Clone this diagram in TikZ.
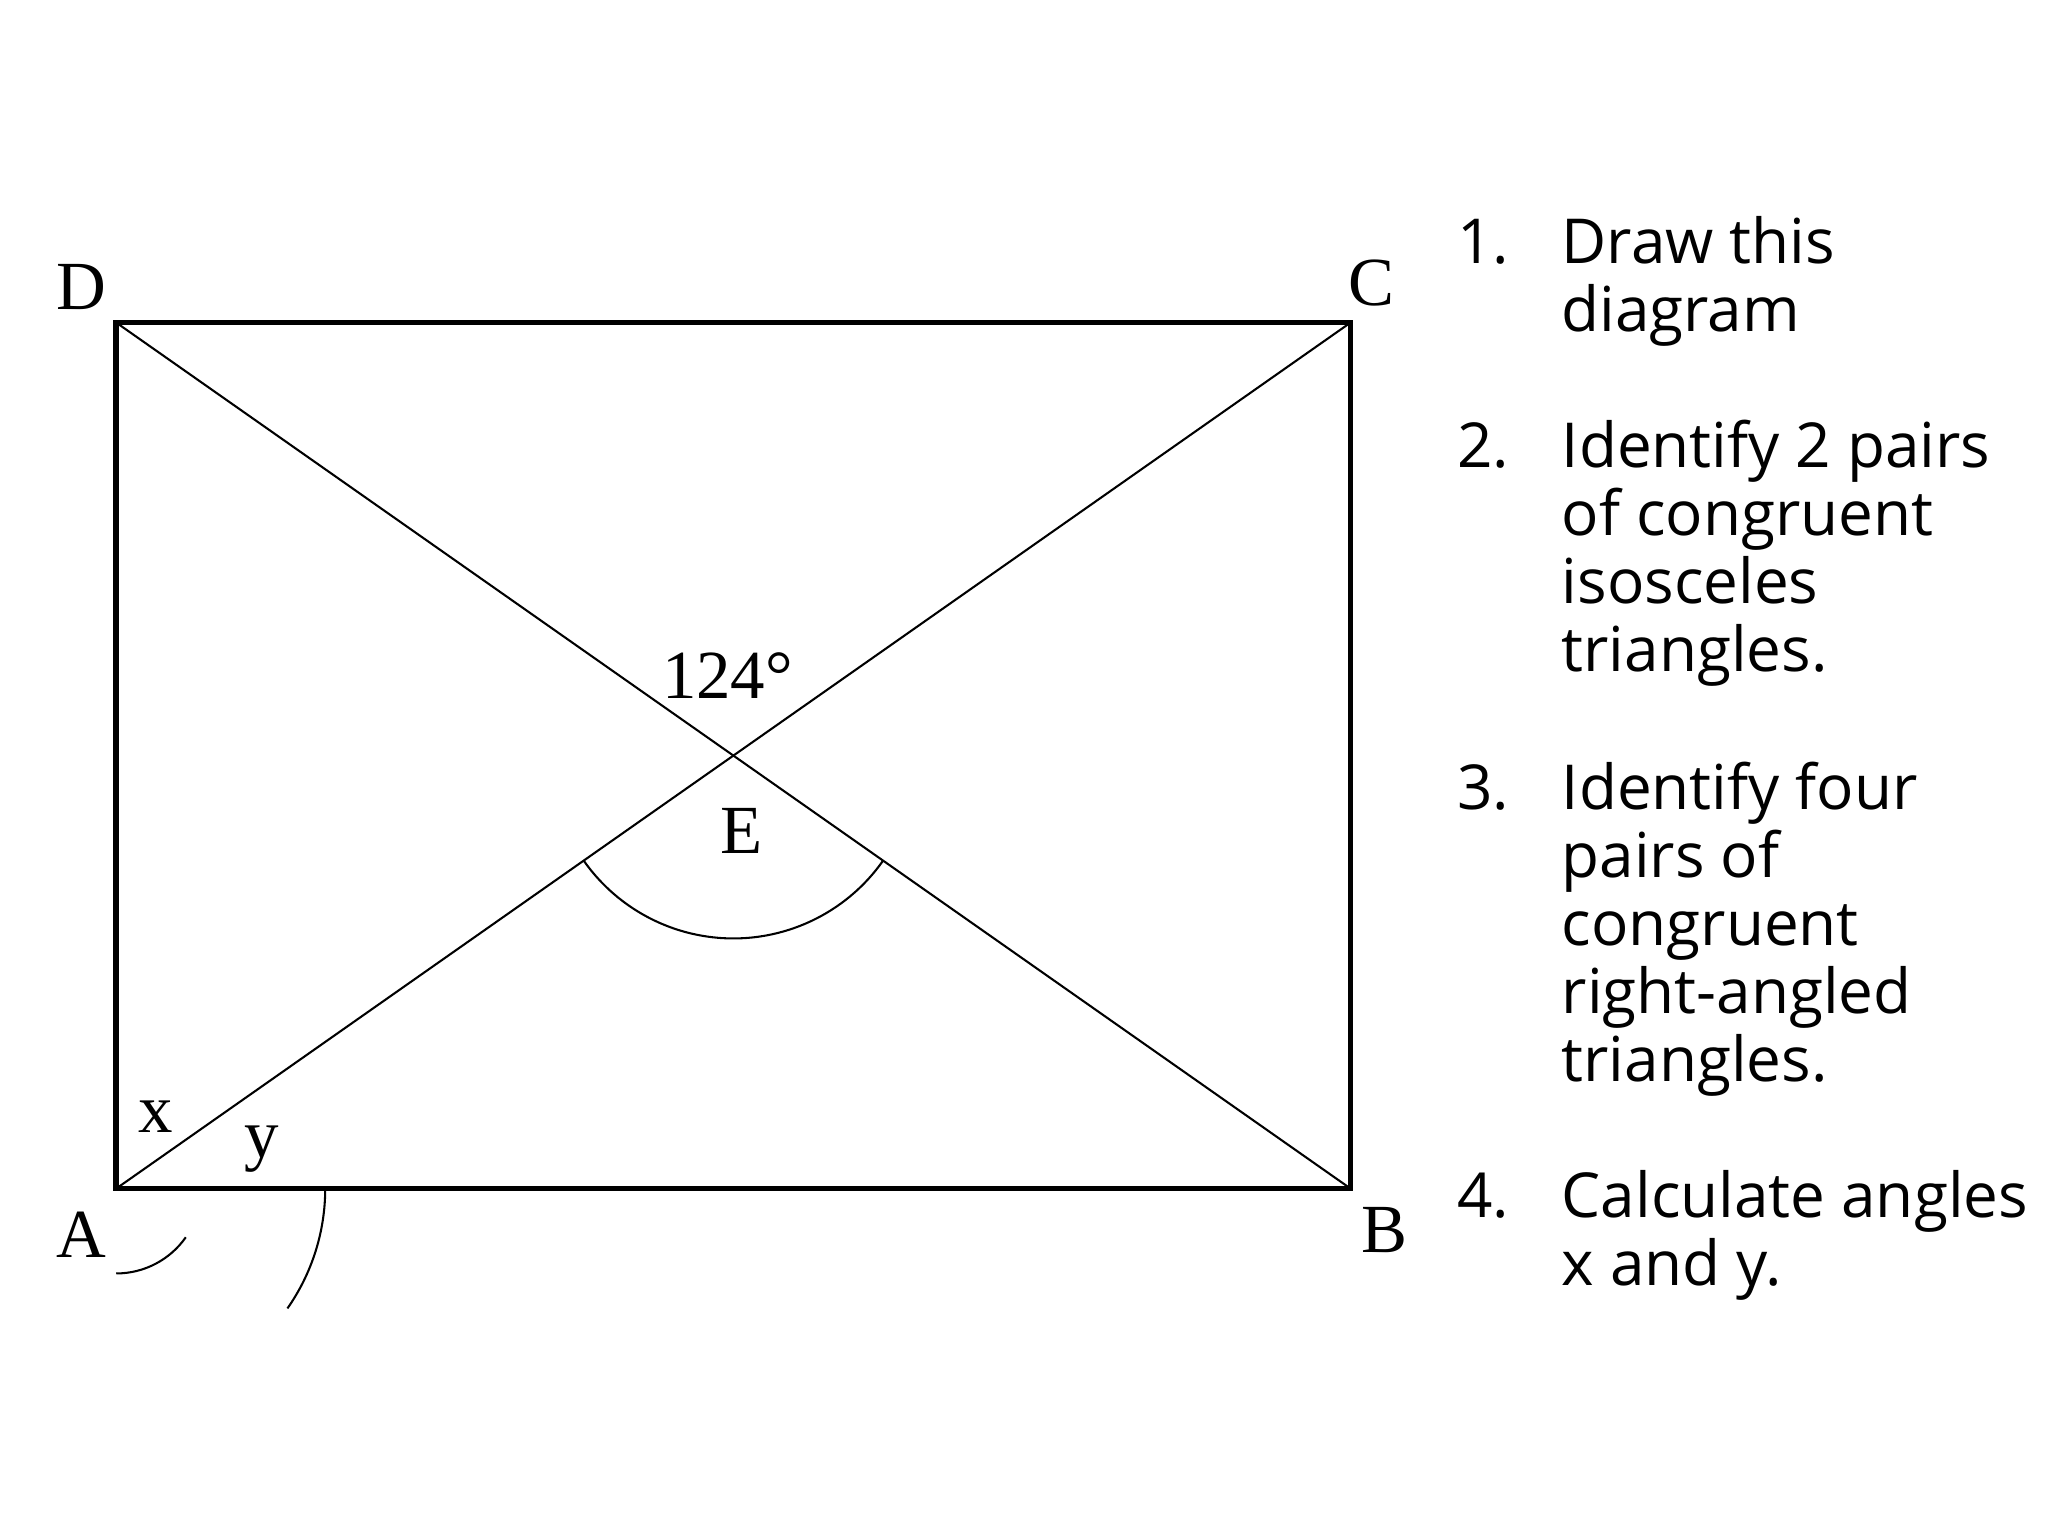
\documentclass[tikz,border=0pt]{standalone}
\usepackage{fontspec}
\setmainfont{Liberation Serif}
\newfontfamily\qfont{Open Sans}
\begin{document}
\begin{tikzpicture}[x=0.01cm,y=-0.01cm,
  lbl/.style={font=\fontsize{15}{17}\selectfont},
  qtxt/.style={font=\qfont\fontsize{13.5}{15}\selectfont,anchor=base west,inner sep=0},
  thin line/.style={line width=0.45pt}]
\useasboundingbox (0,0) rectangle (1568,1176);
\coordinate (A) at (89,910);
\coordinate (B) at (1034,910);
\coordinate (C) at (1034,247);
\coordinate (D) at (89,247);
\draw[line width=1.2pt] (A) -- (B) -- (C) -- (D) -- cycle;
\draw[thin line] (A) -- (C);
\draw[thin line] (D) -- (B);
\coordinate (E) at (561.5,578.5);
\draw[thin line] ([shift={(35:140)}]E) arc[start angle=35,end angle=145,radius=140];
\draw[thin line] ([shift={(35:65)}]A) arc[start angle=35,end angle=90,radius=65];
\draw[thin line] ([shift={(0:160)}]A) arc[start angle=0,end angle=35,radius=160];
\node[lbl] (lD) at (62,220) {D};
\node[lbl] (lC) at (1050,217) {C};
\node[lbl] (lA) at (62,945) {A};
\node[lbl] (lB) at (1060,942) {B};
\node[lbl] (lE) at (568,636) {E};
\node[lbl] (l124) at (557,517) {124\textdegree};
\node[lbl] (lx) at (119,855) {x};
\node[lbl] (ly) at (200,880) {y};
\foreach \n/\yy in {1./202,2./358,3./620,4./932}
  \node[qtxt] at (1115,\yy) {\n};
\foreach \t/\yy in {Draw this/202,diagram/254,
  Identify 2 pairs/358,of congruent/410,isosceles/462,triangles./514,
  Identify four/620,pairs of/672,congruent/724,right-angled/776,triangles./828,
  Calculate angles/932,x and y./984}
  \node[qtxt] at (1195,\yy) {\t};
\end{tikzpicture}
\end{document}
